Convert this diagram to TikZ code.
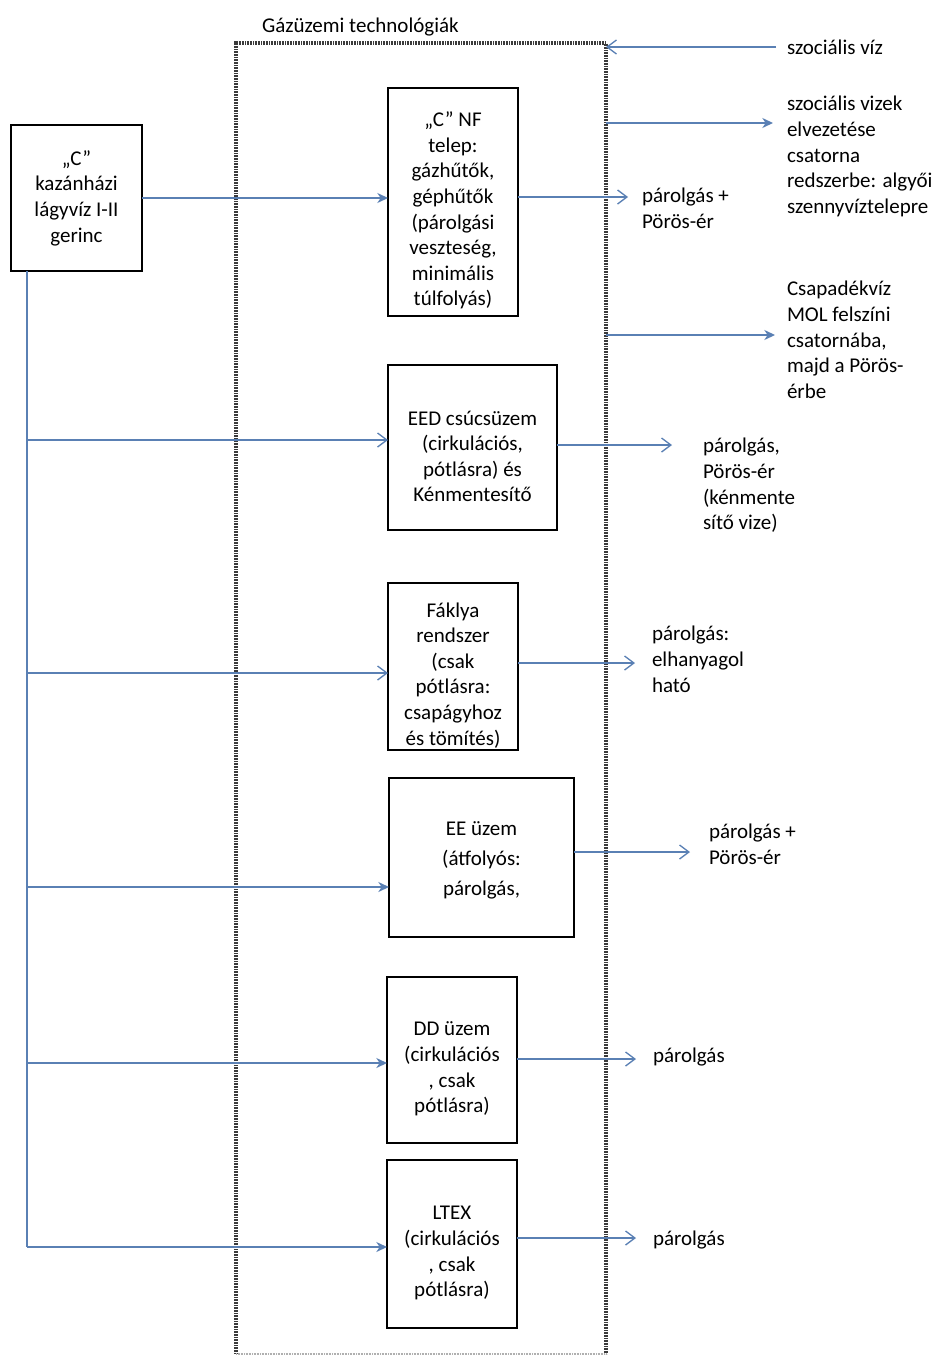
\documentclass[tikz,border=0pt]{standalone}
\usepackage{fontspec}
\setmainfont{Carlito}
\usetikzlibrary{arrows.meta}
\definecolor{conncol}{HTML}{5A80B4}
\definecolor{framecol}{HTML}{3A3A3A}
\newcommand\topgap{\rule{0pt}{24pt}}
\tikzset{
  txt/.style={font=\fontsize{15.75pt}{19.2pt}\selectfont, inner sep=0pt, outer sep=0pt},
  lbl/.style={txt, align=left, anchor=north west},
  box/.style={txt, draw=black, line width=1.9pt, align=center},
  conn/.style={draw=conncol, line width=1.1pt},
  openarr/.style={conn, -{Straight Barb[length=7pt,width=10.5pt,line width=1pt]}},
  fillarr/.style={conn, -{Stealth[length=8pt,width=7.5pt,inset=2.5pt]}},
  framedge/.style={draw=framecol, line width=3pt, dash pattern=on 0.7pt off 0.5pt},
  framelight/.style={draw=framecol!40, line width=2.2pt, dash pattern=on 0.7pt off 0.5pt}
}
\begin{document}
\begin{tikzpicture}[x=0.75pt,y=-0.75pt]
\useasboundingbox (0,0) rectangle (934,1360);
\fill[white] (0,0) rectangle (934,1360);

% frame
\node[minimum width=277.5pt, minimum height=983.25pt, inner sep=0pt, outer sep=0pt] (F) at (421,698.5) {};
\draw[framedge] (F.south west) -- (F.north west) -- (F.north east) -- (F.south east);
\draw[framelight] (F.south west) -- (F.south east);
\node[lbl] (title) at (262,15) {\strut Gázüzemi technológiák};

% boxes
\node[box, minimum width=98.25pt, minimum height=109.5pt] (K) at (76.5,198) {„C”\\kazánházi\\lágyvíz I-II\\gerinc};
\node[box, minimum width=97.5pt, minimum height=171pt] (B1) at (453,202) {\topgap„C” NF\\telep:\\gázhűtők,\\géphűtők\\(párolgási\\veszteség,\\minimális\\túlfolyás)};
\node[box, minimum width=126.75pt, minimum height=123.75pt] (B2) at (472.5,447.5) {\topgap EED csúcsüzem\\(cirkulációs,\\pótlásra) és\\Kénmentesítő};
\node[box, minimum width=97.5pt, minimum height=125.25pt] (B3) at (453,666.5) {\topgap Fáklya\\rendszer\\(csak\\pótlásra:\\csapágyhoz\\és tömítés)};
\node[box, minimum width=138.75pt, minimum height=119.25pt] (B4) at (481.5,857.5) {\rule{0pt}{15pt}EE üzem\\[3.5pt](átfolyós:\\[3.5pt]párolgás,};
\node[box, minimum width=97.5pt, minimum height=124.5pt] (B5) at (452,1060) {\topgap DD üzem\\(cirkulációs\\, csak\\pótlásra)};
\node[box, minimum width=97.5pt, minimum height=126pt] (B6) at (452,1244) {\topgap LTEX\\(cirkulációs\\, csak\\pótlásra)};

% right-hand labels
\node[lbl] (t0) at (787,37) {\strut szociális víz};
\node[lbl] (t1) at (787,93) {\strut szociális vizek\\elvezetése\\csatorna\\redszerbe: algyői\\szennyvíztelepre};
\node[lbl] (t2) at (787,278) {\strut Csapadékvíz\\MOL felszíni\\csatornába,\\majd a Pörös-\\érbe};
\node[lbl] (t3) at (642,185) {\strut párolgás +\\Pörös-ér};
\node[lbl] (t4) at (703,435) {\strut párolgás,\\Pörös-ér\\(kénmente\\sítő vize)};
\node[lbl] (t5) at (652,623) {\strut párolgás:\\elhanyagol\\ható};
\node[lbl] (t6) at (709,821) {\strut párolgás +\\Pörös-ér};
\node[lbl] (t7) at (653,1045) {\strut párolgás};
\node[lbl] (t8) at (653,1228) {\strut párolgás};

% arrow end coordinates
\coordinate (c0) at (776,47);
\coordinate (c1) at (773,123);
\coordinate (c2) at (775,335);
\coordinate (c3) at (628,197);
\coordinate (c4) at (672,445);
\coordinate (c5) at (635,663);
\coordinate (c6) at (690,852);
\coordinate (c7) at (636,1059);
\coordinate (c8) at (636,1238);

\draw[openarr] (c0) -- (c0 -| F.east);
\draw[fillarr] (c1 -| F.east) -- (c1);
\draw[fillarr] (c2 -| F.east) -- (c2);
\draw[openarr] (c3 -| B1.east) -- (c3);
\draw[openarr] (c4 -| B2.east) -- (c4);
\draw[openarr] (c5 -| B3.east) -- (c5);
\draw[openarr] (c6 -| B4.east) -- (c6);
\draw[openarr] (c7 -| B5.east) -- (c7);
\draw[openarr] (c8 -| B6.east) -- (c8);

% left feed line
\coordinate (v) at (27,1247);
\coordinate (l2) at (27,440);
\coordinate (l3) at (27,673);
\coordinate (l4) at (27,887);
\coordinate (l5) at (27,1063);
\draw[conn] (v |- K.south) -- (v);
\draw[fillarr] (K.east) -- (K.east -| B1.west);
\draw[openarr] (l2) -- (l2 -| B2.west);
\draw[openarr] (l3) -- (l3 -| B3.west);
\draw[fillarr] (l4) -- (l4 -| B4.west);
\draw[fillarr] (l5) -- (l5 -| B5.west);
\draw[fillarr] (v) -- (v -| B6.west);
\end{tikzpicture}
\end{document}
